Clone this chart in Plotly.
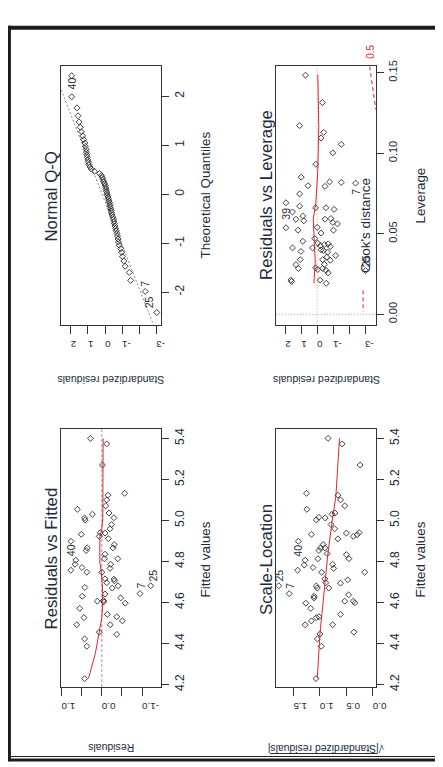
import plotly.graph_objects as go

W, H = 443, 767

# ---------------- data ----------------
# Residuals vs Fitted
rf_fitted = [5.400, 5.373, 5.270, 5.132, 5.123, 5.100, 5.071, 5.054, 5.030, 5.036, 5.012, 5.002, 5.013,
             4.980, 4.959, 4.932, 4.940, 4.922, 4.938, 4.911, 4.898, 4.866, 4.853, 4.882, 4.866, 4.835,
             4.813, 4.813, 4.806, 4.786, 4.757, 4.770, 4.747, 4.786, 4.766, 4.747, 4.715, 4.713, 4.705,
             4.696, 4.681, 4.670, 4.673, 4.641, 4.630, 4.622, 4.609, 4.603, 4.606, 4.596, 4.571, 4.526,
             4.542, 4.491, 4.491, 4.530, 4.510, 4.455, 4.444, 4.422, 4.386, 4.228, 4.643, 4.681]
rf_resid = [0.283, -0.121, -0.016, -0.567, -0.154, -0.121, -0.097, 0.607, 0.235, -0.178, 0.429, 0.413, -0.300,
            -0.243, -0.202, 0.510, 0.040, 0.065, -0.081, -0.162, 0.769, 0.364, 0.389, -0.308, -0.275, -0.081,
            -0.065, -0.397, 0.648, 0.664, 0.769, 0.494, 0.372, -0.219, -0.202, 0.000, -0.081, -0.300, -0.316,
            -0.121, -0.405, -0.259, 0.421, -0.081, 0.486, -0.470, -0.040, -0.049, 0.113, -0.583, 0.551, 0.445,
            -0.138, 0.623, -0.210, -0.372, -0.510, 0.065, -0.372, 0.429, 0.372, 0.429, -0.947, -1.215]
rf_smooth_fitted = [4.229, 4.350, 4.455, 4.526, 4.598, 4.670, 4.750, 4.798, 4.919, 4.959, 5.007, 5.151, 5.400]
rf_smooth_resid = [0.332, 0.162, 0.065, 0.000, -0.024, -0.016, 0.016, 0.049, 0.049, 0.000, -0.024, -0.024, -0.032]
rf_labels = [("40", 0.769, 4.898, 0, -9), ("7", -0.947, 4.643, 1, 8), ("25", -1.215, 4.681, 2, 10)]

# Scale-Location
sl_fitted = [5.400, 5.373, 5.270, 5.132, 5.054, 5.123, 5.100, 5.071, 5.036, 5.030, 5.012, 5.015, 5.002,
             4.980, 4.959, 4.932, 4.938, 4.922, 4.930, 4.940, 4.910, 4.898, 4.882, 4.866, 4.853, 4.866,
             4.838, 4.833, 4.813, 4.813, 4.806, 4.782, 4.786, 4.766, 4.757, 4.770, 4.747, 4.747, 4.715,
             4.696, 4.694, 4.710, 4.680, 4.670, 4.670, 4.681, 4.643, 4.630, 4.622, 4.637, 4.606, 4.606,
             4.598, 4.596, 4.571, 4.530, 4.526, 4.510, 4.542, 4.491, 4.491, 4.446, 4.422, 4.455, 4.386, 4.229]
sl_sqrt = [0.846, 0.580, 0.241, 1.253, 1.247, 0.660, 0.611, 0.531, 0.716, 0.772, 0.900, 1.019, 1.068,
           0.790, 0.722, 1.160, 0.500, 0.370, 0.296, 0.259, 0.660, 1.407, 0.938, 0.988, 1.019, 0.907,
           0.864, 0.500, 0.451, 1.037, 1.278, 1.296, 0.759, 0.741, 1.420, 1.130, 0.969, 0.154, 0.907,
           0.889, 0.611, 0.475, 1.068, 1.049, 0.833, 1.778, 1.580, 1.110, 1.110, 0.457, 0.531, 0.370,
           0.340, 1.265, 1.173, 1.019, 1.068, 1.160, 0.611, 1.278, 0.759, 1.000, 1.049, 0.358, 0.975, 1.074]
sl_smooth_fitted = [4.229, 4.446, 4.606, 4.831, 4.991, 5.119, 5.400]
sl_smooth_sqrt = [1.049, 1.000, 0.938, 0.852, 0.772, 0.698, 0.630]
sl_labels = [("40", 1.407, 4.898, 0, -9), ("7", 1.580, 4.643, 0, 8), ("25", 1.778, 4.681, 0, 10)]

# Normal Q-Q
qq_theoretical = [-2.4175, -1.9878, -1.7617, -1.6006, -1.4731, -1.3662, -1.2733, -1.189, -1.113, -1.043,
                  -0.978, -0.9166, -0.8591, -0.803, -0.7501, -0.6994, -0.6502, -0.6026, -0.5563, -0.511,
                  -0.4667, -0.4237, -0.3812, -0.3395, -0.2983, -0.2574, -0.2171, -0.1772, -0.1375, -0.098,
                  -0.0588, -0.0196, 0.0196, 0.0588, 0.098, 0.1375, 0.1772, 0.2171, 0.2574, 0.2983, 0.3395,
                  0.3812, 0.4237, 0.4667, 0.511, 0.5563, 0.6026, 0.6502, 0.6994, 0.7501, 0.803, 0.8591,
                  0.9166, 0.978, 1.043, 1.113, 1.189, 1.2733, 1.3662, 1.4731, 1.6006, 1.7617, 1.9878, 2.4175]
qq_std = [-3.03, -2.35, -1.50, -1.42, -1.18, -1.10, -1.01, -0.97, -0.92, -0.83, -0.78, -0.76, -0.73, -0.70,
          -0.66, -0.62, -0.58, -0.55, -0.52, -0.49, -0.45, -0.41, -0.38, -0.36, -0.33, -0.31, -0.29, -0.26,
          -0.23, -0.20, -0.17, -0.13, -0.11, -0.08, -0.06, -0.04, -0.01, 0.03, 0.08, 0.12, 0.16, 0.22, 0.32,
          0.62, 0.80, 0.88, 0.94, 0.97, 1.01, 1.04, 1.07, 1.09, 1.11, 1.15, 1.18, 1.25, 1.31, 1.38, 1.45,
          1.52, 1.58, 1.64, 1.95, 1.955]
qq_line_theoretical = [-2.7, 2.7]
qq_line_std = [-2.868, 3.212]
qq_labels = [("40", 1.955, 2.4175, 0, -8), ("7", -2.35, -1.9878, 0, 8), ("25", -3.03, -2.4175, -7, 10)]

# Residuals vs Leverage
lv_leverage = [0.1484, 0.1314, 0.1171, 0.1129, 0.1094, 0.1055, 0.1002, 0.0931, 0.0851, 0.0798, 0.0794,
               0.0822, 0.0818, 0.0814, 0.0747, 0.0692, 0.0671, 0.0661, 0.0661, 0.0651, 0.0635, 0.0610,
               0.0590, 0.0580, 0.0590, 0.0594, 0.0561, 0.0570, 0.0522, 0.0537, 0.0522, 0.0539, 0.0504,
               0.0453, 0.0441, 0.0433, 0.0437, 0.0420, 0.0412, 0.0412, 0.0400, 0.0386, 0.0390, 0.0365,
               0.0339, 0.0339, 0.0335, 0.0308, 0.0284, 0.0288, 0.0278, 0.0284, 0.0273, 0.0257, 0.0212,
               0.0192, 0.0212, 0.0204, 0.0271, 0.0425, 0.0355, 0.0310, 0.0470, 0.0395]
lv_std = [0.735, -0.327, 1.10, -0.408, -0.245, -1.51, -0.98, 0.082, 1.00, 0.571, -0.49,
          -0.776, -1.51, -2.41, 1.10, 1.96, 1.10, 0.10, -0.55, -1.06, 1.55, 0.90,
          1.33, 0.84, -0.49, -0.86, -1.27, -0.98, -1.02, 1.96, 1.20, 0.00, -0.245,
          0.90, -0.04, -0.45, -0.69, -0.82, 0.286, 1.55, -0.245, -0.65, 1.02, -1.16,
          1.06, -0.347, -0.82, 1.33, 1.18, 0.10, -0.04, -0.347, -0.55, -0.69, -0.18,
          -0.57, 1.65, 1.60, -3.03, -0.20, -0.60, -0.45, 0.15, -0.40]
lv_smooth_leverage = [0.0192, 0.0324, 0.0590, 0.0692, 0.0896, 0.1161, 0.1488]
lv_smooth_std = [0.204, 0.122, 0.245, 0.082, -0.040, -0.100, -0.040]
cook_leverage = [0.1539, 0.145, 0.136, 0.127]
cook_std = [-3.29, -3.41, -3.54, -3.68]
lv_labels = [("39", 1.96, 0.0692, 0, -11), ("7", -2.41, 0.0814, 1, -9), ("25", -3.03, 0.0271, 0, 9)]

# axis ticks
resid_ticks = [1.0, 0.5, 0.0, -0.5, -1.0]
resid_ticktext = ["1.0", "", "0.0", "", "-1.0"]
fitted_ticks = [4.2, 4.4, 4.6, 4.8, 5.0, 5.2, 5.4]
fitted_ticktext = ["4.2", "4.4", "4.6", "4.8", "5.0", "5.2", "5.4"]
sqrt_ticks = [0.0, 0.5, 1.0, 1.5]
sqrt_ticktext = ["0.0", "0.5", "1.0", "1.5"]
std_ticks = [2, 1, 0, -1, -2, -3]
std_ticktext = ["2", "1", "0", "-1", "", "-3"]
theo_ticks = [-2, -1, 0, 1, 2]
theo_ticktext = ["-2", "-1", "0", "1", "2"]
lev_ticks = [0.0, 0.05, 0.10, 0.15]
lev_ticktext = ["0.00", "0.05", "0.10", "0.15"]

# ---------------- styling ----------------
TXT = "#222a3a"
PT = "#2b2b2b"
RED = "#e8232c"
FONT = "Liberation Sans, Arial, sans-serif"


def px(x):
    return x / W


def py(y):
    return 1 - y / H


fig = go.Figure()

panels = {
    "qq": ("x", "y", (54.3, 156.7), (53, 314.7), [2.574, -3.284], [-2.665, 2.611],
           std_ticks, std_ticktext, theo_ticks, theo_ticktext, 12),
    "lv": ("x2", "y2", (274.3, 376.7), (53, 314.7), [2.574, -3.70], [-0.0064, 0.1539],
           std_ticks, std_ticktext, lev_ticks, lev_ticktext, 11),
    "rf": ("x3", "y3", (54.3, 156.7), (420, 682), [1.013, -1.475], [4.187, 5.448],
           resid_ticks, resid_ticktext, fitted_ticks, fitted_ticktext, 12),
    "sl": ("x4", "y4", (274.3, 376.7), (420, 682), [1.827, -0.063], [4.187, 5.448],
           sqrt_ticks, sqrt_ticktext, fitted_ticks, fitted_ticktext, 12),
}

layout_axes = {}
for name, (xa, ya, (xl, xr), (yt, yb), xr_, yr_, xt, xtt, yt_, ytt, yfs) in panels.items():
    xkey = "xaxis" + xa[1:]
    ykey = "yaxis" + ya[1:]
    layout_axes[xkey] = dict(
        domain=[px(xl), px(xr)], anchor=ya, range=xr_, autorange=False,
        tickvals=xt, ticktext=xtt, tickangle=180, ticks="outside", ticklen=8, tickwidth=1,
        tickcolor="#333", showline=True, linecolor="#333", linewidth=1, mirror=True,
        showgrid=False, zeroline=False, ticklabelstandoff=5,
        tickfont=dict(family=FONT, size=9.8, color=TXT),
    )
    layout_axes[ykey] = dict(
        domain=[py(yb), py(yt)], anchor=xa, side="right", range=yr_, autorange=False,
        tickvals=yt_, ticktext=ytt, tickangle=-90, ticks="outside", ticklen=7, tickwidth=1,
        tickcolor="#333", showline=True, linecolor="#333", linewidth=1, mirror=True,
        showgrid=False, zeroline=False, ticklabelstandoff=0,
        tickfont=dict(family=FONT, size=yfs, color=TXT),
    )

marker = dict(symbol="diamond-open", size=4.6, color=PT, line=dict(width=0.9, color=PT))

# Residuals vs Fitted
fig.add_trace(go.Scatter(x=rf_resid, y=rf_fitted, mode="markers", marker=marker, xaxis="x3", yaxis="y3"))
fig.add_trace(go.Scatter(x=rf_smooth_resid, y=rf_smooth_fitted, mode="lines",
                         line=dict(color=RED, width=1), xaxis="x3", yaxis="y3"))
# Scale-Location
fig.add_trace(go.Scatter(x=sl_sqrt, y=sl_fitted, mode="markers", marker=marker, xaxis="x4", yaxis="y4"))
fig.add_trace(go.Scatter(x=sl_smooth_sqrt, y=sl_smooth_fitted, mode="lines",
                         line=dict(color=RED, width=1), xaxis="x4", yaxis="y4"))
# Q-Q
fig.add_trace(go.Scatter(x=qq_line_std, y=qq_line_theoretical, mode="lines",
                         line=dict(color="#8a8a8a", width=1, dash="2px,2px"), xaxis="x", yaxis="y"))
fig.add_trace(go.Scatter(x=qq_std, y=qq_theoretical, mode="markers", marker=marker, xaxis="x", yaxis="y"))
# Leverage
fig.add_trace(go.Scatter(x=lv_std, y=lv_leverage, mode="markers", marker=marker, xaxis="x2", yaxis="y2"))
fig.add_trace(go.Scatter(x=lv_smooth_std, y=lv_smooth_leverage, mode="lines",
                         line=dict(color=RED, width=1), xaxis="x2", yaxis="y2"))
fig.add_trace(go.Scatter(x=cook_std, y=cook_leverage, mode="lines",
                         line=dict(color=RED, width=1, dash="4px,3px"), xaxis="x2", yaxis="y2"))

shapes = []
# reference lines
shapes.append(dict(type="line", xref="x3", x0=0, x1=0, yref="y3 domain", y0=0, y1=1,
                   line=dict(color="#9a9a9a", width=1, dash="3px,2px"), layer="below"))
shapes.append(dict(type="line", xref="x2", x0=0, x1=0, yref="y2 domain", y0=0, y1=1,
                   line=dict(color="#aaaaaa", width=1, dash="1px,2px"), layer="below"))
shapes.append(dict(type="line", yref="y2", y0=0, y1=0, xref="x2 domain", x0=0, x1=1,
                   line=dict(color="#aaaaaa", width=1, dash="1px,2px"), layer="below"))
# Cook's distance legend sample
shapes.append(dict(type="line", xref="paper", yref="paper", x0=px(363.3), x1=px(363.3),
                   y0=py(280), y1=py(301.7), line=dict(color=RED, width=1, dash="4px,3px")))
# sqrt overline (upside-down -> below text)
shapes.append(dict(type="line", xref="paper", yref="paper", x0=px(268), x1=px(378),
                   y0=py(749.3), y1=py(749.3), line=dict(color=TXT, width=1)))
# page frame
frame = "#1c1c1c"
shapes.append(dict(type="rect", xref="paper", yref="paper", x0=0, x1=1, y0=py(16), y1=py(12),
                   fillcolor=frame, line=dict(width=0)))
shapes.append(dict(type="rect", xref="paper", yref="paper", x0=0, x1=px(3), y0=py(757), y1=py(12),
                   fillcolor=frame, line=dict(width=0)))
shapes.append(dict(type="line", xref="paper", yref="paper", x0=px(3), x1=1, y0=py(752.3), y1=py(752.3),
                   line=dict(color=frame, width=1)))
shapes.append(dict(type="rect", xref="paper", yref="paper", x0=0, x1=1, y0=py(757.5), y1=py(754.3),
                   fillcolor=frame, line=dict(width=0)))

ann = []


def text(x, y, s, size, angle, color=TXT, family=FONT):
    ann.append(dict(x=px(x), y=py(y), xref="paper", yref="paper", text=s, showarrow=False,
                    textangle=angle, xanchor="center", yanchor="middle",
                    font=dict(family=family, size=size, color=color)))


# panel titles
text(45, 551.7, "Residuals vs Fitted", 16.8, -90)
text(264.7, 552.5, "Scale-Location", 16.8, -90)
text(45, 185, "Normal Q-Q", 16.8, -90)
text(265, 183.3, "Residuals vs Leverage", 16.8, -90)
# axis titles
text(201.7, 552.5, "Fitted values", 13.4, -90)
text(421.7, 552.5, "Fitted values", 13.4, -90)
text(201.7, 183.7, "Theoretical Quantiles", 13.4, -90)
text(422.5, 184, "Leverage", 13.4, -90)
text(105.5, 743.5, "Residuals", 10.5, 180)
text(325.6, 744, "√|Standardized residuals|", 10.4, 180)
text(105, 371.5, "Standardized residuals", 10.5, 180)
text(325.8, 371.5, "Standardized residuals", 10.5, 180)
# Cook's legend text and contour label
text(365, 214, "Cook's distance", 13.5, -90)
text(370.7, 38, "0.5", 10, -90, color=RED)

# point labels
for lbls, xa, ya in ((rf_labels, "x3", "y3"), (sl_labels, "x4", "y4"),
                     (qq_labels, "x", "y"), (lv_labels, "x2", "y2")):
    for s, xv, yv, dx, dy in lbls:
        ann.append(dict(x=xv, y=yv, xref=xa, yref=ya, text=s, showarrow=False, textangle=-90,
                        xshift=dx, yshift=dy, xanchor="center", yanchor="middle",
                        font=dict(family=FONT, size=10.5, color=TXT)))

fig.update_layout(
    width=W, height=H, autosize=False,
    margin=dict(l=0, r=0, t=0, b=0),
    paper_bgcolor="white", plot_bgcolor="white",
    showlegend=False,
    shapes=shapes, annotations=ann,
    **layout_axes,
)

fig.write_html("out.html")
